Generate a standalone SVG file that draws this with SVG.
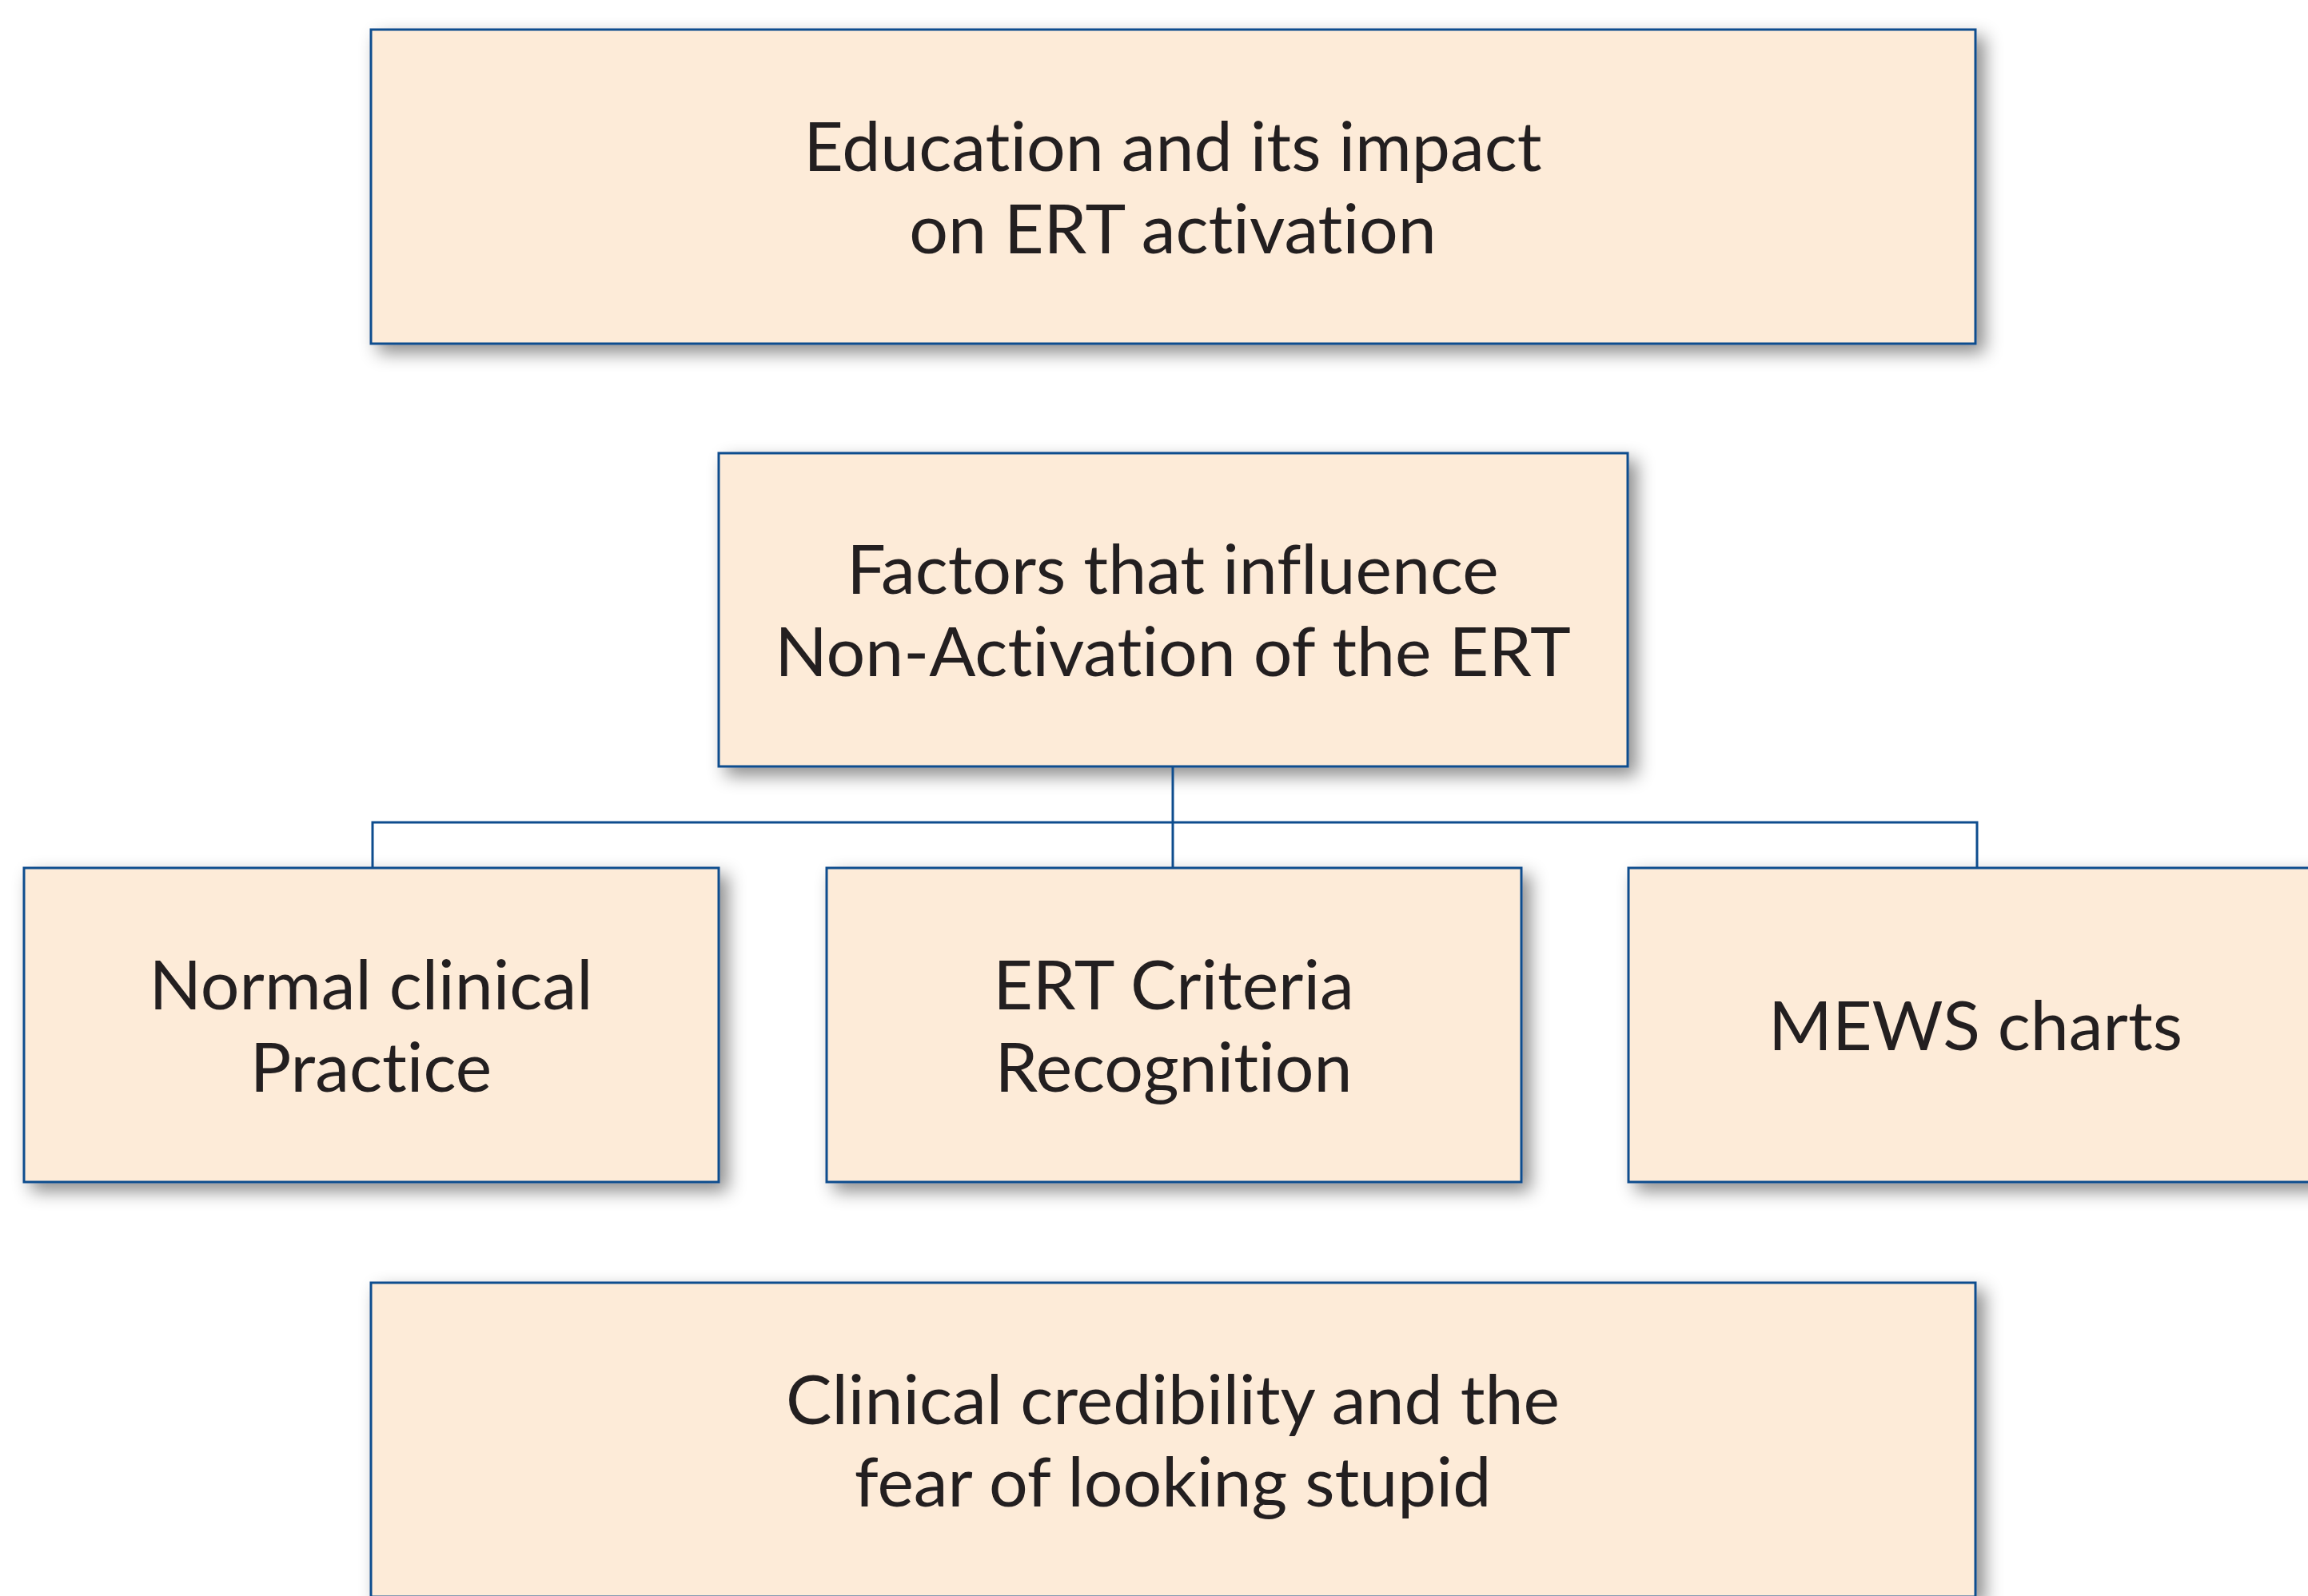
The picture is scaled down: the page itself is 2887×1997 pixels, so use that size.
<svg xmlns="http://www.w3.org/2000/svg" width="2887" height="1997" viewBox="0 0 2887 1997">
<defs>
<filter id="sh" x="-10%" y="-10%" width="130%" height="130%">
<feDropShadow dx="10" dy="10" stdDeviation="11" flood-color="#000" flood-opacity="0.45"/>
</filter>
</defs>
<style>
.box{fill:#FDEBD8;stroke:#0E4D8E;stroke-width:3;filter:url(#sh)}
.t{font-family:Lato,"Open Sans",sans-serif;font-size:86px;fill:#231F20;text-anchor:middle;font-variant-ligatures:none;font-feature-settings:"liga" 0}
.c{fill:none;stroke:#0E4D8E;stroke-width:3}
</style>
<rect width="2887" height="1997" fill="#fff"/>
<g id="n-education">
<rect class="box" x="464" y="37" width="2007" height="393"/>
<text class="t" x="1467" y="214">Education and its impact</text>
<text class="t" x="1467" y="317">on ERT activation</text>
</g>
<g id="n-factors">
<rect class="box" x="899" y="567" width="1137" height="392"/>
<text class="t" x="1467" y="743">Factors that influence</text>
<text class="t" x="1467" y="846">Non-Activation of the ERT</text>
</g>
<g id="n-normal">
<rect class="box" x="30" y="1086" width="869" height="393"/>
<text class="t" x="464" y="1263">Normal clinical</text>
<text class="t" x="464" y="1366">Practice</text>
</g>
<g id="n-criteria">
<rect class="box" x="1034" y="1086" width="869" height="393"/>
<text class="t" x="1468" y="1263">ERT Criteria</text>
<text class="t" x="1468" y="1366">Recognition</text>
</g>
<g id="n-mews">
<rect class="box" x="2037" y="1086" width="869" height="393"/>
<text class="t" x="2471" y="1314">MEWS charts</text>
</g>
<g id="n-credibility">
<rect class="box" x="464" y="1605" width="2007" height="393"/>
<text class="t" x="1467" y="1782">Clinical credibility and the</text>
<text class="t" x="1467" y="1885">fear of looking stupid</text>
</g>
<g id="connectors">
<path class="c" d="M1467 959 V1029 M466 1086 V1029 H2473 V1086 M1467 1029 V1086"/>
</g>
</svg>
